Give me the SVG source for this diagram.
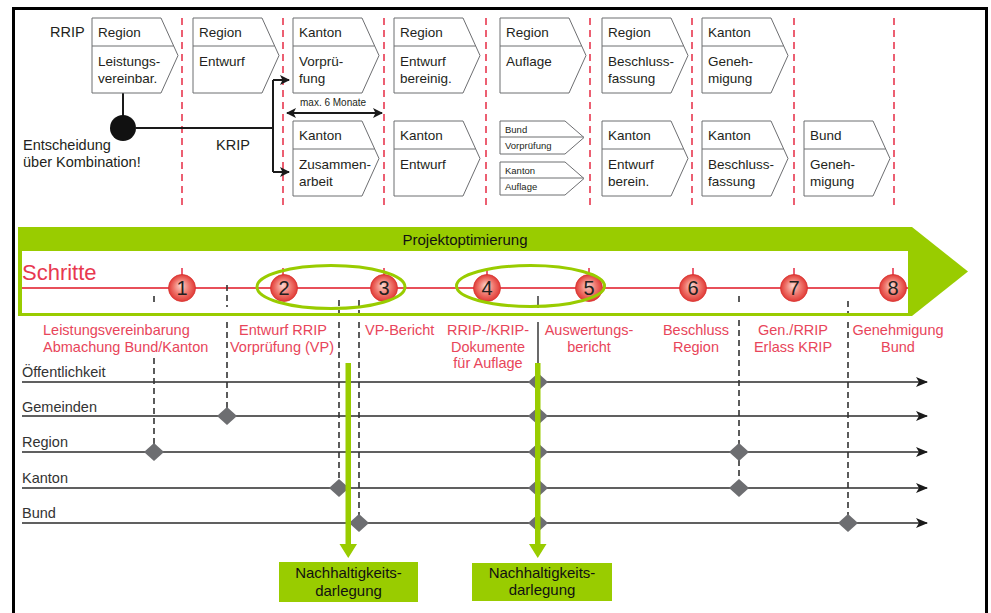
<svg xmlns="http://www.w3.org/2000/svg" xmlns:xlink="http://www.w3.org/1999/xlink" width="991" height="613" viewBox="0 0 991 613">
<style>
text{font-family:"Liberation Sans",Arial,sans-serif;}
.bx{font-size:13.5px;fill:#231f20;}
.lb{font-size:14.5px;fill:#231f20;}
.sm{font-size:9.5px;fill:#231f20;}
.pent{fill:#fff;stroke:#6d6e71;stroke-width:1;}
.rdash{stroke:#e8384f;stroke-width:1.6;stroke-dasharray:7 5;fill:none;}
.red{font-size:14.5px;fill:#e8455a;}
.lane{font-size:14.5px;fill:#333;}
.lline{stroke:#2b2b2b;stroke-width:1.6;fill:none;marker-end:url(#la);}
.dsh{stroke:#333;stroke-width:1.6;stroke-dasharray:6 4;fill:none;}
.dia{fill:#6d6e71;}
.num{font-size:20px;fill:#231f20;text-anchor:middle;}
.blk{stroke:#1a1a1a;stroke-width:2;fill:none;}
.grn{fill:#99cc00;}
.gt{font-size:15px;fill:#111;text-anchor:middle;}
</style>
<defs>
<path id="pent" d="M0 0 h69 l17 37.5 l-17 37.5 h-69 z M0 28 h81.7"/>
<path id="spent" d="M0 0 h65 l19 16.5 l-19 16.5 h-65 z M0 16 h83.5"/>
<marker id="la" markerWidth="12" markerHeight="10" refX="11" refY="5" orient="auto" markerUnits="userSpaceOnUse">
<path d="M0 0 L12 5 L0 10 L3 5 z" fill="#1a1a1a"/>
</marker>
<marker id="ba" markerWidth="10" markerHeight="10" refX="9" refY="5" orient="auto-start-reverse" markerUnits="userSpaceOnUse">
<path d="M0 0 L10 5 L0 10 L2.5 5 z" fill="#1a1a1a"/>
</marker>
<radialGradient id="cg" cx="0.5" cy="0.5" r="0.5" fx="0.45" fy="0.4">
<stop offset="0" stop-color="#fbd6cf"/>
<stop offset="0.55" stop-color="#f07a70"/>
<stop offset="1" stop-color="#e03a36"/>
</radialGradient>
</defs>

<rect x="13.5" y="8.5" width="973" height="620" fill="none" stroke="#000" stroke-width="3"/>

<!-- red dashed column separators -->
<g id="separators">
<path class="rdash" d="M182 18V207 M283 18V207 M384 18V207 M486 18V207 M590 18V207 M692 18V207 M794 18V207 M894 18V207"/>
</g>

<!-- top labels -->
<g id="labels-top">
<text class="lb" x="50" y="37">RRIP</text>
<text class="lb" x="216" y="150">KRIP</text>
<text class="lb" x="23" y="150">Entscheidung</text>
<text class="lb" x="23" y="167">über Kombination!</text>
<text x="300" y="106" style="font-size:10px;fill:#231f20">max. 6 Monate</text>
</g>

<!-- connectors -->
<g id="connectors">
<path class="blk" d="M123 93V118 M136 128H273 M273 80V172"/>
<path class="blk" d="M273 80H289" marker-end="url(#ba)"/>
<path class="blk" d="M273 172H289" marker-end="url(#ba)"/>
<path class="blk" d="M287 113H382" marker-start="url(#ba)" marker-end="url(#ba)"/>
</g>
<g id="decision"><circle cx="123" cy="128" r="13" fill="#111"/></g>

<!-- row 1 -->
<g id="n-r1-1"><use href="#pent" class="pent" x="92" y="18"/><text class="bx" x="98" y="37">Region</text><text class="bx" x="98" y="66">Leistungs-</text><text class="bx" x="98" y="83">vereinbar.</text></g>
<g id="n-r1-2"><use href="#pent" class="pent" x="193" y="18"/><text class="bx" x="199" y="37">Region</text><text class="bx" x="199" y="66">Entwurf</text></g>
<g id="n-r1-3"><use href="#pent" class="pent" x="293" y="18"/><text class="bx" x="299" y="37">Kanton</text><text class="bx" x="299" y="66">Vorprü-</text><text class="bx" x="299" y="83">fung</text></g>
<g id="n-r1-4"><use href="#pent" class="pent" x="394" y="18"/><text class="bx" x="400" y="37">Region</text><text class="bx" x="400" y="66">Entwurf</text><text class="bx" x="400" y="83">bereinig.</text></g>
<g id="n-r1-5"><use href="#pent" class="pent" x="500" y="18"/><text class="bx" x="506" y="37">Region</text><text class="bx" x="506" y="66">Auflage</text></g>
<g id="n-r1-6"><use href="#pent" class="pent" x="602" y="18"/><text class="bx" x="608" y="37">Region</text><text class="bx" x="608" y="66">Beschluss-</text><text class="bx" x="608" y="83">fassung</text></g>
<g id="n-r1-7"><use href="#pent" class="pent" x="702" y="18"/><text class="bx" x="708" y="37">Kanton</text><text class="bx" x="708" y="66">Geneh-</text><text class="bx" x="708" y="83">migung</text></g>

<!-- row 2 -->
<g id="n-r2-3"><use href="#pent" class="pent" x="293" y="121"/><text class="bx" x="299" y="140">Kanton</text><text class="bx" x="299" y="169">Zusammen-</text><text class="bx" x="299" y="186">arbeit</text></g>
<g id="n-r2-4"><use href="#pent" class="pent" x="394" y="121"/><text class="bx" x="400" y="140">Kanton</text><text class="bx" x="400" y="169">Entwurf</text></g>
<g id="n-r2-5a"><use href="#spent" class="pent" x="500" y="121"/><text class="sm" x="505" y="133">Bund</text><text class="sm" x="505" y="149">Vorprüfung</text></g>
<g id="n-r2-5b"><use href="#spent" class="pent" x="500" y="162"/><text class="sm" x="505" y="174">Kanton</text><text class="sm" x="505" y="190">Auflage</text></g>
<g id="n-r2-6"><use href="#pent" class="pent" x="602" y="121"/><text class="bx" x="608" y="140">Kanton</text><text class="bx" x="608" y="169">Entwurf</text><text class="bx" x="608" y="186">berein.</text></g>
<g id="n-r2-7"><use href="#pent" class="pent" x="702" y="121"/><text class="bx" x="708" y="140">Kanton</text><text class="bx" x="708" y="169">Beschluss-</text><text class="bx" x="708" y="186">fassung</text></g>
<g id="n-r2-8"><use href="#pent" class="pent" x="804" y="121"/><text class="bx" x="810" y="140">Bund</text><text class="bx" x="810" y="169">Geneh-</text><text class="bx" x="810" y="186">migung</text></g>

<!-- green band -->
<g id="band">
<path class="grn" d="M18 227H912L968 271.5L912 316H18z"/>
<rect x="22" y="251" width="886" height="62" fill="#fff"/>
<text x="465" y="245" text-anchor="middle" style="font-size:15px;fill:#111">Projektoptimierung</text>
<text x="22" y="280" style="font-size:22px;fill:#e8384f">Schritte</text>
<path d="M22 288H908" stroke="#e8505a" stroke-width="1.8"/>
<path d="M182 268V288 M283 268V288 M384 268V288 M487 268V288 M589 268V288 M693 268V288 M794 268V288 M893 268V288" stroke="#e8384f" stroke-width="1.6"/>
</g>

<!-- in-band dashed tops -->
<g id="dash-tops">
<path class="dsh" d="M154 296V302 M227 285V307 M339 300V313 M359 300V313 M739 296V302 M848 301V313"/>
<path d="M538 296V308" stroke="#444" stroke-width="1.6"/>
</g>

<!-- steps -->
<g id="steps">
<g id="s1"><circle cx="182" cy="288" r="13.5" fill="url(#cg)" stroke="#d8322f" stroke-width="0.8"/><text class="num" x="182" y="295">1</text></g>
<g id="s2"><circle cx="284" cy="288" r="13.5" fill="url(#cg)" stroke="#d8322f" stroke-width="0.8"/><text class="num" x="284" y="295">2</text></g>
<g id="s3"><circle cx="384" cy="288" r="13.5" fill="url(#cg)" stroke="#d8322f" stroke-width="0.8"/><text class="num" x="384" y="295">3</text></g>
<g id="s4"><circle cx="487" cy="288" r="13.5" fill="url(#cg)" stroke="#d8322f" stroke-width="0.8"/><text class="num" x="487" y="295">4</text></g>
<g id="s5"><circle cx="589" cy="288" r="13.5" fill="url(#cg)" stroke="#d8322f" stroke-width="0.8"/><text class="num" x="589" y="295">5</text></g>
<g id="s6"><circle cx="693" cy="288" r="13.5" fill="url(#cg)" stroke="#d8322f" stroke-width="0.8"/><text class="num" x="693" y="295">6</text></g>
<g id="s7"><circle cx="794" cy="288" r="13.5" fill="url(#cg)" stroke="#d8322f" stroke-width="0.8"/><text class="num" x="794" y="295">7</text></g>
<g id="s8"><circle cx="893" cy="288" r="13.5" fill="url(#cg)" stroke="#d8322f" stroke-width="0.8"/><text class="num" x="893" y="295">8</text></g>
</g>
<g id="groupings">
<ellipse cx="331" cy="287" rx="74" ry="21.5" fill="none" stroke="#99cc00" stroke-width="3"/>
<ellipse cx="530.5" cy="286" rx="74" ry="20.5" fill="none" stroke="#99cc00" stroke-width="3"/>
</g>

<!-- step labels -->
<g id="step-labels">
<text class="red" x="43" y="335">Leistungsvereinbarung</text>
<text class="red" x="43" y="352">Abmachung Bund/Kanton</text>
<text class="red" x="283" y="335" text-anchor="middle">Entwurf RRIP</text>
<text class="red" x="282" y="352" text-anchor="middle">Vorprüfung (VP)</text>
<text class="red" x="365" y="335">VP-Bericht</text>
<text class="red" x="488" y="335" text-anchor="middle">RRIP-/KRIP-</text>
<text class="red" x="488" y="351.5" text-anchor="middle">Dokumente</text>
<text class="red" x="488" y="368" text-anchor="middle">für Auflage</text>
<text class="red" x="589" y="335" text-anchor="middle">Auswertungs-</text>
<text class="red" x="589" y="352" text-anchor="middle">bericht</text>
<text class="red" x="696" y="335" text-anchor="middle">Beschluss</text>
<text class="red" x="696" y="352" text-anchor="middle">Region</text>
<text class="red" x="793" y="335" text-anchor="middle">Gen./RRIP</text>
<text class="red" x="793" y="352" text-anchor="middle">Erlass KRIP</text>
<text class="red" x="898" y="335" text-anchor="middle">Genehmigung</text>
<text class="red" x="898" y="352" text-anchor="middle">Bund</text>
</g>

<!-- lanes -->
<g id="lanes">
<text class="lane" x="22" y="377">Öffentlichkeit</text>
<text class="lane" x="22" y="412">Gemeinden</text>
<text class="lane" x="22" y="447">Region</text>
<text class="lane" x="22" y="483">Kanton</text>
<text class="lane" x="22" y="518">Bund</text>
<path class="lline" d="M22 382H927"/>
<path class="lline" d="M22 416H927"/>
<path class="lline" d="M22 452H927"/>
<path class="lline" d="M22 488H927"/>
<path class="lline" d="M22 523H927"/>
</g>

<!-- event links -->
<g id="event-links">
<path class="dsh" d="M154 358V452 M227 322V416 M339 322V488 M359 322V523 M739 320V488 M848 322V523"/>
<path d="M538 322V523" stroke="#444" stroke-width="1.6"/>
</g>

<!-- events (diamonds) -->
<g id="events">
<path class="dia" d="M227 407l10 9l-10 9l-10-9z"/>
<path class="dia" d="M154 443l10 9l-10 9l-10-9z"/>
<path class="dia" d="M339 479l10 9l-10 9l-10-9z"/>
<path class="dia" d="M359 514l10 9l-10 9l-10-9z"/>
<path class="dia" d="M538 373l10 9l-10 9l-10-9z"/>
<path class="dia" d="M538 407l10 9l-10 9l-10-9z"/>
<path class="dia" d="M538 443l10 9l-10 9l-10-9z"/>
<path class="dia" d="M538 479l10 9l-10 9l-10-9z"/>
<path class="dia" d="M538 514l10 9l-10 9l-10-9z"/>
<path class="dia" d="M739 443l10 9l-10 9l-10-9z"/>
<path class="dia" d="M739 479l10 9l-10 9l-10-9z"/>
<path class="dia" d="M848 514l10 9l-10 9l-10-9z"/>
</g>

<!-- sustainability arrows and boxes -->
<g id="sust-arrows">
<path class="grn" d="M345.5 363h5.5v181h6l-8.75 14l-8.75-14h6z"/>
<path class="grn" d="M535 363h5.5v181h6l-8.75 14l-8.75-14h6z"/>
</g>
<g id="n-sust-1">
<rect class="grn" x="279" y="562" width="139" height="40"/>
<text class="gt" x="348.5" y="578">Nachhaltigkeits-</text>
<text class="gt" x="348.5" y="596">darlegung</text>
</g>
<g id="n-sust-2">
<rect class="grn" x="472" y="563" width="140" height="38"/>
<text class="gt" x="542" y="578">Nachhaltigkeits-</text>
<text class="gt" x="542" y="595">darlegung</text>
</g>
</svg>
